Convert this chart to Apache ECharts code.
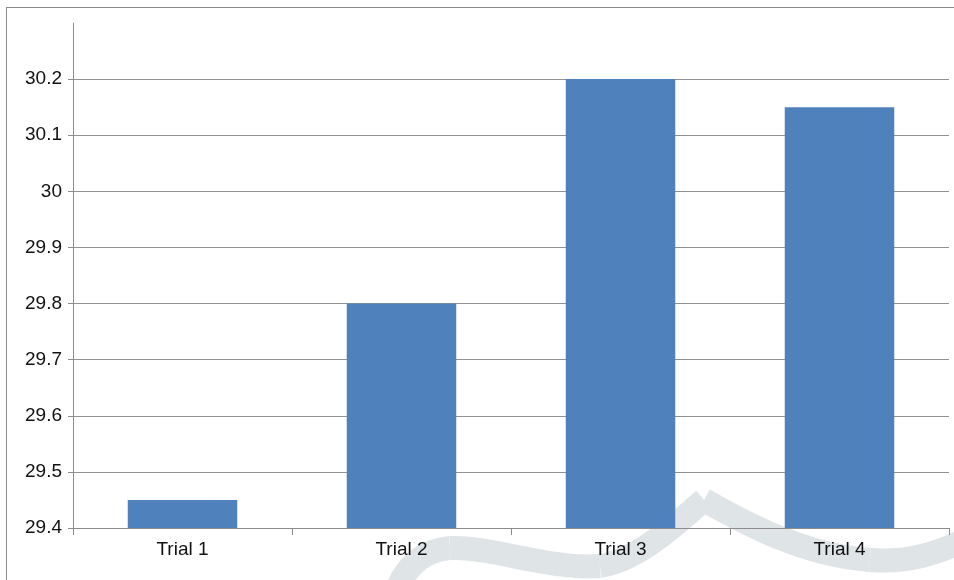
<!DOCTYPE html>
<html>
<head>
<meta charset="utf-8">
<script src="https://cdn.jsdelivr.net/npm/echarts@6/dist/echarts.min.js"></script>
<style>
  html, body { margin: 0; padding: 0; background: #fff; }
  #frame { position: absolute; left: 6px; top: 7px; width: 960px; height: 600px;
           border-left: 1px solid #8a8a8a; border-top: 1px solid #8a8a8a; }
  #chart { position: absolute; left: 0; top: 0; width: 954px; height: 580px; }
</style>
</head>
<body>
<div id="frame"></div>
<div id="chart"></div>
<script>
var categories = ["Trial 1", "Trial 2", "Trial 3", "Trial 4"];
var values = [29.45, 29.8, 30.2, 30.15];

var chart = echarts.init(document.getElementById("chart"));

// light watermark band behind the chart
function band(x1, y1, cpx1, cpy1, cpx2, cpy2, x2, y2) {
  return {
    type: "bezierCurve",
    zlevel: -1,
    silent: true,
    shape: { x1: x1, y1: y1, cpx1: cpx1, cpy1: cpy1, cpx2: cpx2, cpy2: cpy2, x2: x2, y2: y2 },
    style: { fill: null, stroke: "#dfe4e7", lineWidth: 24, lineCap: "butt" }
  };
}

var option = {
  animation: false,
  grid: { left: 73, right: 5, top: 23, bottom: 52 },
  graphic: [
    band(395, 595, 405, 565, 425, 550, 450, 548),
    band(450, 548, 490, 546, 550, 570, 600, 566),
    band(600, 566, 640, 560, 680, 520, 704, 500),
    band(704, 500, 740, 520, 800, 555, 870, 560),
    band(870, 560, 910, 563, 940, 552, 965, 540)
  ],
  xAxis: {
    type: "category",
    data: categories,
    axisLine: { lineStyle: { color: "#8c8c8c", width: 1 } },
    axisTick: { show: true, length: 7, lineStyle: { color: "#8c8c8c" } },
    axisLabel: {
      color: "#111",
      fontSize: 19,
      fontFamily: "Liberation Sans",
      margin: 12
    }
  },
  yAxis: {
    type: "value",
    min: 29.4,
    max: 30.3,
    interval: 0.1,
    axisLine: { show: true, lineStyle: { color: "#8c8c8c", width: 1 } },
    axisTick: { show: true, length: 5, lineStyle: { color: "#8c8c8c" } },
    axisLabel: {
      color: "#111",
      fontSize: 19,
      fontFamily: "Liberation Sans",
      margin: 11,
      showMaxLabel: false,
      formatter: function (v) {
        return String(Math.round(v * 10) / 10);
      }
    },
    splitLine: {
      show: true,
      showMaxLine: false,
      lineStyle: { color: "#939393", width: 1 }
    }
  },
  series: [
    {
      type: "bar",
      data: values,
      barWidth: "50%",
      itemStyle: { color: "#4f81bd" }
    }
  ]
};

chart.setOption(option);
</script>
</body>
</html>
